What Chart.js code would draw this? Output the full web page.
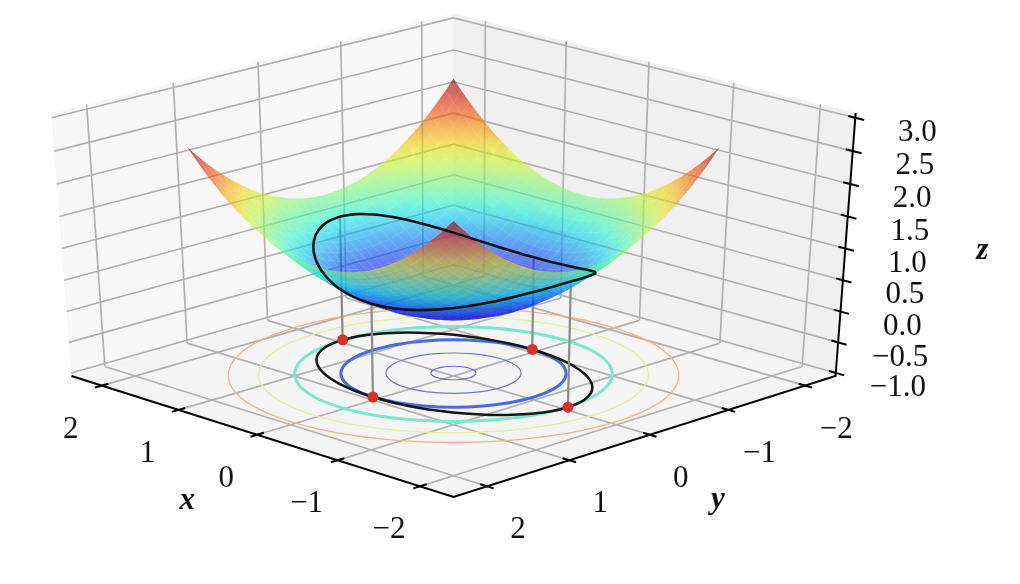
<!DOCTYPE html>
<html>
<head>
<meta charset="utf-8">
<style>
  html, body { margin: 0; padding: 0; background: #fff; }
  canvas { display: block; }
</style>
<script src="https://cdn.jsdelivr.net/npm/chart.js@4"></script>
</head>
<body>
<canvas id="chart" width="1020" height="584"></canvas>
<script>
// tick labels
const xTicks = [2, 1, 0, -1, -2];
const yTicks = [2, 1, 0, -1, -2];
const zTicks = [3, 2.5, 2, 1.5, 1, 0.5, 0, -0.5, -1];
const xTickLabels = ['2', '1', '0', '\u22121', '\u22122'];
const yTickLabels = ['2', '1', '0', '\u22121', '\u22122'];
const zTickLabels = ['3.0', '2.5', '2.0', '1.5', '1.0', '0.5', '0.0', '\u22120.5', '\u22121.0'];

// surface heights for one quadrant (the bowl is mirrored in both axes)
const surfaceSteps = [0, 0.1, 0.2, 0.3, 0.4, 0.5, 0.6, 0.7, 0.8, 0.9, 1, 1.1, 1.2, 1.3, 1.4, 1.5, 1.6];
const surfaceZ = [
  [0, .005, .02, .045, .08, .125, .18, .245, .32, .405, .5, .605, .72, .845, .98, 1.125, 1.28],
  [.005, .01, .025, .05, .085, .13, .185, .25, .325, .41, .505, .61, .725, .85, .985, 1.13, 1.285],
  [.02, .025, .04, .065, .1, .145, .2, .265, .34, .425, .52, .625, .74, .865, 1, 1.145, 1.3],
  [.045, .05, .065, .09, .125, .17, .225, .29, .365, .45, .545, .65, .765, .89, 1.025, 1.17, 1.325],
  [.08, .085, .1, .125, .16, .205, .26, .325, .4, .485, .58, .685, .8, .925, 1.06, 1.205, 1.36],
  [.125, .13, .145, .17, .205, .25, .305, .37, .445, .53, .625, .73, .845, .97, 1.105, 1.25, 1.405],
  [.18, .185, .2, .225, .26, .305, .36, .425, .5, .585, .68, .785, .9, 1.025, 1.16, 1.305, 1.46],
  [.245, .25, .265, .29, .325, .37, .425, .49, .565, .65, .745, .85, .965, 1.09, 1.225, 1.37, 1.525],
  [.32, .325, .34, .365, .4, .445, .5, .565, .64, .725, .82, .925, 1.04, 1.165, 1.3, 1.445, 1.6],
  [.405, .41, .425, .45, .485, .53, .585, .65, .725, .81, .905, 1.01, 1.125, 1.25, 1.385, 1.53, 1.685],
  [.5, .505, .52, .545, .58, .625, .68, .745, .82, .905, 1, 1.105, 1.22, 1.345, 1.48, 1.625, 1.78],
  [.605, .61, .625, .65, .685, .73, .785, .85, .925, 1.01, 1.105, 1.21, 1.325, 1.45, 1.585, 1.73, 1.885],
  [.72, .725, .74, .765, .8, .845, .9, .965, 1.04, 1.125, 1.22, 1.325, 1.44, 1.565, 1.7, 1.845, 2],
  [.845, .85, .865, .89, .925, .97, 1.025, 1.09, 1.165, 1.25, 1.345, 1.45, 1.565, 1.69, 1.825, 1.97, 2.125],
  [.98, .985, 1, 1.025, 1.06, 1.105, 1.16, 1.225, 1.3, 1.385, 1.48, 1.585, 1.7, 1.825, 1.96, 2.105, 2.26],
  [1.125, 1.13, 1.145, 1.17, 1.205, 1.25, 1.305, 1.37, 1.445, 1.53, 1.625, 1.73, 1.845, 1.97, 2.105, 2.25, 2.405],
  [1.28, 1.285, 1.3, 1.325, 1.36, 1.405, 1.46, 1.525, 1.6, 1.685, 1.78, 1.885, 2, 2.125, 2.26, 2.405, 2.56]
];

// the black closed curve, on the surface and again on the z = -1 plane
const curveX = [1.414, 1.393, 1.329, 1.225, 1.083, .909, .707, .484, .246, 0, -.246, -.484, -.707, -.909, -1.083, -1.225, -1.329, -1.393,
  -1.414, -1.393, -1.329, -1.225, -1.083, -.909, -.707, -.484, -.246, 0, .246, .484, .707, .909, 1.083, 1.225, 1.329, 1.393, 1.414];
const curveY = [0, .174, .342, .5, .643, .766, .866, .94, .985, 1, .985, .94, .866, .766, .643, .5, .342, .174,
  0, -.174, -.342, -.5, -.643, -.766, -.866, -.94, -.985, -1, -.985, -.94, -.866, -.766, -.643, -.5, -.342, -.174, 0];
const curveZ = [1, .985, .942, .875, .793, .707, .625, .558, .515, .5, .515, .558, .625, .707, .793, .875, .942, .985,
  1, .985, .942, .875, .793, .707, .625, .558, .515, .5, .515, .558, .625, .707, .793, .875, .942, .985, 1];

// red markers with their drop lines
const markerX = [1.414, 0, 0, -1.414];
const markerY = [0, -1, 1, 0];
const markerZ = [1, .5, .5, 1];

// contours on the z = -1 plane
const contourRadii = [.2, .6, 1, 1.41, 1.73, 2];
const ringX = [1, .966, .866, .707, .5, .259, 0, -.259, -.5, -.707, -.866, -.966, -1, -.966, -.866, -.707, -.5, -.259, 0, .259, .5, .707, .866, .966, 1];
const ringY = [0, .259, .5, .707, .866, .966, 1, .966, .866, .707, .5, .259, 0, -.259, -.5, -.707, -.866, -.966, -1, -.966, -.866, -.707, -.5, -.259, 0];

// jet colour map, slightly muted: position, r, g, b
const jetStops = [
  [0, 0, 0, 127], [.11, 0, 0, 245], [.125, 0, 0, 245], [.35, 0, 222, 240], [.375, 20, 245, 215], [.5, 124, 245, 121],
  [.64, 238, 245, 8], [.75, 245, 151, 0], [.91, 235, 0, 0], [1, 127, 0, 0]
];

// axis box and camera
const XLIM = 2.4, ZLO = -1.05, ZHI = 3.07, ZFLOOR = -1;
const ZMID = (ZLO + ZHI) / 2, ZSCALE = 1.05 / ((ZHI - ZLO) / 2);
const ELEV = 31.9 * Math.PI / 180, CAM = 21.64;
const SX = 5996, SY = 5996 * .532, CX = 453.5, CY = 247.9;
const W = 1020, H = 584;
const ZMAX = 2.56;
const SURF_ALPHA = .6;

function project(x, y, z) {
  const a = x / XLIM, b = y / XLIM, h = (z - ZMID) * ZSCALE;
  const p = (-a - b) / Math.SQRT2, q = (b - a) / Math.SQRT2;
  const up = h * Math.cos(ELEV) - q * Math.sin(ELEV);
  const near = h * Math.sin(ELEV) + q * Math.cos(ELEV);
  const w = CAM - near;
  return { x: p / w, y: up / w, near: near };
}

function jet(t, alpha) {
  t = Math.max(0, Math.min(1, t));
  let i = 0;
  while (i < jetStops.length - 2 && t > jetStops[i + 1][0]) i++;
  const s = jetStops[i], e = jetStops[i + 1], f = (t - s[0]) / (e[0] - s[0]);
  const c = [1, 2, 3].map(k => Math.round(s[k] + (e[k] - s[k]) * f));
  return `rgba(${c[0]},${c[1]},${c[2]},${alpha})`;
}

const layers = [];

function addPath(points, opts) {
  layers.push(Object.assign({
    type: 'scatter',
    showLine: true,
    pointRadius: 0,
    borderWidth: 1.7,
    borderColor: '#b0b0b0',
    backgroundColor: 'rgba(0,0,0,0)',
    tension: 0,
    clip: false,
    fill: false,
    data: points.map(p => project(p[0], p[1], p[2]))
  }, opts));
}

function addPane(points, color) {
  addPath(points.concat([points[0]]), { borderWidth: 0, fill: 'shape', backgroundColor: color });
}

// panes
addPane([[XLIM, XLIM, ZLO], [XLIM, -XLIM, ZLO], [XLIM, -XLIM, ZHI], [XLIM, XLIM, ZHI]], '#f7f7f7');
addPane([[XLIM, -XLIM, ZLO], [-XLIM, -XLIM, ZLO], [-XLIM, -XLIM, ZHI], [XLIM, -XLIM, ZHI]], '#f0f0f0');
addPane([[XLIM, XLIM, ZLO], [XLIM, -XLIM, ZLO], [-XLIM, -XLIM, ZLO], [-XLIM, XLIM, ZLO]], '#f4f4f4');

// grid
yTicks.forEach(v => {
  addPath([[XLIM, v, ZLO], [XLIM, v, ZHI]]);
  addPath([[XLIM, v, ZLO], [-XLIM, v, ZLO]]);
});
xTicks.forEach(v => {
  addPath([[v, -XLIM, ZLO], [v, -XLIM, ZHI]]);
  addPath([[v, XLIM, ZLO], [v, -XLIM, ZLO]]);
});
zTicks.forEach(v => {
  addPath([[XLIM, XLIM, v], [XLIM, -XLIM, v], [-XLIM, -XLIM, v]]);
});

// contours
const contourColors = ['#6a6cc8', '#7478d0', '#4a6ae0', '#78e8cc', '#dff0a4', '#f0b488'];
const contourWidths = [1.2, 1.2, 3, 3, 1.3, 1.3];
contourRadii.forEach((r, i) => {
  addPath(ringX.map((c, k) => [c * r, ringY[k] * r, ZFLOOR]), {
    borderColor: contourColors[i],
    borderWidth: contourWidths[i],
    tension: .4
  });
});

// curve on the floor, drop lines, markers
addPath(curveX.map((v, k) => [v, curveY[k], ZFLOOR]), { borderColor: '#151515', borderWidth: 2.5, tension: .4 });
markerX.forEach((v, k) => {
  addPath([[v, markerY[k], ZFLOOR], [v, markerY[k], markerZ[k]]], { borderColor: '#8a8a8a', borderWidth: 2.2 });
});
addPath(markerX.map((v, k) => [v, markerY[k], ZFLOOR]), {
  showLine: false,
  pointRadius: 5.5,
  pointBorderWidth: 0,
  pointBackgroundColor: '#d9302c'
});

// surface quads, back to front
function surfaceAt(i, j) {
  const x = Math.sign(i) * surfaceSteps[Math.abs(i)];
  const y = Math.sign(j) * surfaceSteps[Math.abs(j)];
  return [x, y, surfaceZ[Math.abs(i)][Math.abs(j)]];
}
const quads = [];
for (let i = -16; i < 16; i++) {
  for (let j = -16; j < 16; j++) {
    const corners = [surfaceAt(i, j), surfaceAt(i + 1, j), surfaceAt(i + 1, j + 1), surfaceAt(i, j + 1)];
    const depth = corners.reduce((s, c) => s + project(c[0], c[1], c[2]).near, 0) / 4;
    quads.push({ corners, depth });
  }
}
quads.sort((a, b) => a.depth - b.depth);

function quadFill(chart, corners) {
  const sorted = corners.slice().sort((a, b) => a[2] - b[2]);
  const lo = sorted[0], hi = sorted[3];
  const colLo = jet(lo[2] / ZMAX, SURF_ALPHA), colHi = jet(hi[2] / ZMAX, SURF_ALPHA);
  const sx = chart.scales.x, sy = chart.scales.y;
  const a = project(lo[0], lo[1], lo[2]), b = project(hi[0], hi[1], hi[2]);
  const x0 = sx.getPixelForValue(a.x), y0 = sy.getPixelForValue(a.y);
  const x1 = sx.getPixelForValue(b.x), y1 = sy.getPixelForValue(b.y);
  if (![x0, y0, x1, y1].every(Number.isFinite)) return colHi;
  const g = chart.ctx.createLinearGradient(x0, y0, x1, y1);
  g.addColorStop(0, colLo);
  g.addColorStop(1, colHi);
  return g;
}

quads.forEach(q => {
  addPath(q.corners.concat([q.corners[0]]), {
    borderWidth: 0,
    fill: 'shape',
    backgroundColor: ctx => quadFill(ctx.chart, q.corners)
  });
});

// curve on the surface
addPath(curveX.map((v, k) => [v, curveY[k], curveZ[k]]), { borderColor: '#111111', borderWidth: 2.6, tension: .4 });

// axis lines and ticks
const axisStyle = { borderColor: '#000000', borderWidth: 2 };
addPath([[XLIM, XLIM, ZLO], [-XLIM, XLIM, ZLO], [-XLIM, -XLIM, ZLO], [-XLIM, -XLIM, ZHI]], axisStyle);
xTicks.forEach(v => addPath([[v, XLIM - .08, ZLO], [v, XLIM + .08, ZLO]], axisStyle));
yTicks.forEach(v => addPath([[-XLIM + .08, v, ZLO], [-XLIM - .08, v, ZLO]], axisStyle));
zTicks.forEach(v => addPath([[-XLIM + .08, -XLIM, v], [-XLIM - .1, -XLIM, v]], axisStyle));

// tick and axis text, placed from the projected tick positions
const textPlugin = {
  id: 'axisText',
  afterDraw(chart) {
    const c = chart.ctx, sx = chart.scales.x, sy = chart.scales.y;
    const put = (pt, dx, dy, str) => {
      const p = project(pt[0], pt[1], pt[2]);
      c.fillText(str, sx.getPixelForValue(p.x) + dx, sy.getPixelForValue(p.y) + dy);
    };
    c.save();
    c.fillStyle = '#111';
    c.textAlign = 'center';
    c.textBaseline = 'middle';
    c.font = '31px "Liberation Serif"';
    xTicks.forEach((v, i) => put([v, XLIM, ZLO], -31, 44, xTickLabels[i]));
    yTicks.forEach((v, i) => put([-XLIM, v, ZLO], 31, 44, yTickLabels[i]));
    zTicks.forEach((v, i) => put([-XLIM, -XLIM, v], 62, 15, zTickLabels[i]));
    c.font = 'italic bold 31px "Liberation Serif"';
    put([0, XLIM, ZLO], -70, 66, 'x');
    put([-XLIM, 0, ZLO], 68, 65, 'y');
    put([-XLIM, -XLIM, 1], 137, 2, 'z');
    c.restore();
  }
};

new Chart(document.getElementById('chart'), {
  type: 'scatter',
  data: { datasets: layers.slice().reverse() },
  options: {
    responsive: false,
    animation: false,
    events: [],
    layout: { padding: 0, autoPadding: false },
    plugins: { legend: { display: false }, tooltip: { enabled: false } },
    scales: {
      x: { type: 'linear', display: false, min: -CX / SX, max: (W - CX) / SX },
      y: { type: 'linear', display: false, min: (CY - H) / SY, max: CY / SY }
    }
  },
  plugins: [textPlugin]
});
</script>
</body>
</html>
